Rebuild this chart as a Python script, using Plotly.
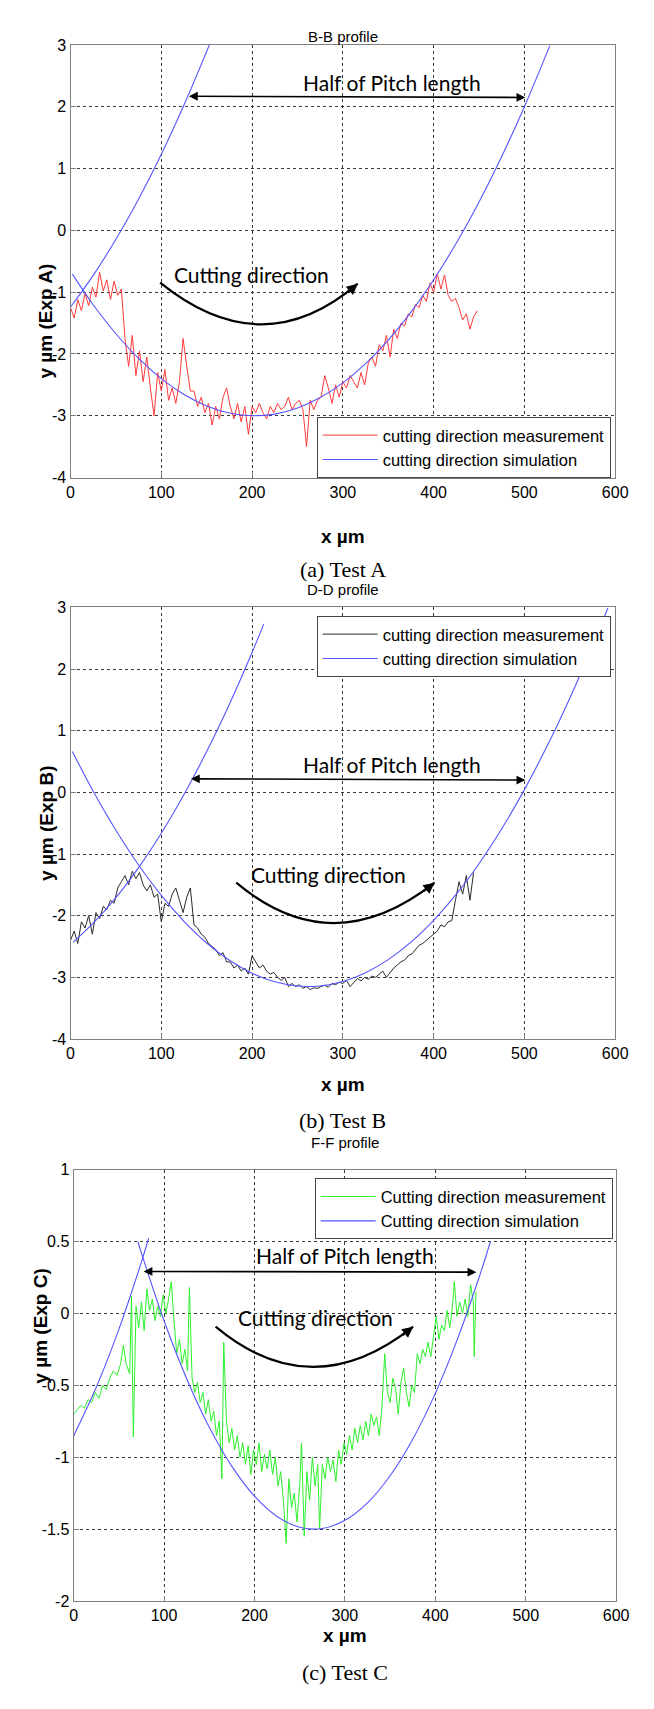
import plotly.graph_objects as go

W, H = 654, 1709

# ---------------- Panel A (B-B profile) ----------------
a_meas_x = [0,4,8,12,16,20,24,28,32,36,40,44,48,52,56,60,64,68,72,76,80,84,88,92,96,100,104,108,112,116,120,124,128,132,136,140,144,148,152,156,160,164,168,172,176,180,184,188,192,196,200,204,208,212,216,220,224,228,232,236,240,244,248,252,256,260,264,268,272,276,280,284,288,292,296,300,304,308,312,316,320,324,328,332,336,340,344,348,352,356,360,364,368,372,376,380,384,388,392,396,400,404,408,412,416,420,424,428,432,436,440,444,448]
a_meas_y = [-1.25,-1.42,-1.12,-1.30,-1.02,-1.22,-0.92,-1.08,-0.68,-0.98,-0.80,-1.12,-0.82,-1.05,-0.95,-1.75,-2.20,-1.70,-2.35,-1.95,-2.45,-2.05,-2.55,-3.00,-2.30,-2.60,-2.25,-2.75,-2.55,-2.80,-2.45,-1.75,-2.20,-2.60,-2.60,-2.85,-2.70,-2.95,-2.80,-3.15,-2.85,-3.05,-2.70,-2.55,-2.85,-3.05,-2.80,-3.10,-2.85,-3.30,-2.85,-2.95,-2.80,-2.95,-3.05,-2.85,-2.95,-2.80,-2.90,-2.85,-2.70,-2.90,-2.80,-2.75,-2.90,-3.50,-2.75,-2.90,-2.75,-2.70,-2.35,-2.55,-2.80,-2.50,-2.70,-2.45,-2.55,-2.35,-2.45,-2.55,-2.30,-2.50,-2.15,-2.05,-2.20,-1.85,-1.95,-1.70,-2.05,-1.60,-1.75,-1.50,-1.55,-1.35,-1.40,-1.20,-1.25,-1.05,-1.15,-0.85,-1.00,-0.70,-0.95,-0.72,-1.05,-1.15,-1.10,-1.25,-1.45,-1.35,-1.60,-1.40,-1.30]
a_sim_x = [2,25,50,75,100,125,150,175,200,225,250,275,300,325,350,375,400,425,450,475,500,528]
a_sim_y = [-0.709,-1.204,-1.673,-2.071,-2.398,-2.655,-2.841,-2.956,-3.0,-2.973,-2.875,-2.706,-2.467,-2.156,-1.775,-1.323,-0.800,-0.206,0.459,1.195,2.001,2.989]
a_adj_x = [0,25,50,75,100,125,153]
a_adj_y = [-1.24,-0.728,-0.145,0.508,1.232,2.028,3.002]
a_pitch = [(128.8, 2.17), (501.0, 2.15)]
a_pitch_text = (354, 2.40)
a_cut_text = (199, -0.71)
a_arc = [(98.7, -0.846), (211.6, -2.186), (316.4, -0.862)]

# ---------------- Panel B (D-D profile) ----------------
b_meas_x = [0,4,8,12,16,20,24,28,32,36,40,44,48,52,56,60,64,68,72,76,80,84,88,92,96,100,104,108,112,116,120,124,128,132,136,140,144,148,152,156,160,164,168,172,176,180,184,188,192,196,200,204,208,212,216,220,224,228,232,236,240,244,248,252,256,260,264,268,272,276,280,284,288,292,296,300,304,308,312,316,320,324,328,332,336,340,344,348,352,356,360,364,368,372,376,380,384,388,392,396,400,404,408,412,416,420,424,428,432,436,440,444]
b_meas_y = [-2.40,-2.25,-2.45,-2.10,-2.20,-2.00,-2.30,-1.95,-2.05,-1.85,-1.90,-1.75,-1.80,-1.55,-1.45,-1.35,-1.50,-1.28,-1.40,-1.30,-1.50,-1.60,-1.50,-1.70,-1.65,-2.10,-1.80,-1.85,-1.65,-1.55,-1.75,-1.95,-1.70,-1.55,-2.15,-2.20,-2.30,-2.35,-2.45,-2.50,-2.55,-2.65,-2.60,-2.75,-2.75,-2.85,-2.80,-2.90,-2.85,-2.95,-2.65,-2.75,-2.85,-2.80,-2.90,-2.95,-2.92,-3.00,-3.05,-3.00,-3.15,-3.10,-3.15,-3.12,-3.18,-3.15,-3.20,-3.17,-3.18,-3.15,-3.13,-3.16,-3.10,-3.12,-3.08,-3.10,-3.05,-3.15,-3.08,-3.02,-3.06,-3.00,-3.03,-2.98,-3.00,-2.95,-2.90,-3.00,-2.92,-2.85,-2.80,-2.75,-2.72,-2.65,-2.62,-2.55,-2.48,-2.45,-2.40,-2.35,-2.30,-2.25,-2.15,-2.18,-2.10,-2.08,-1.75,-1.45,-1.65,-1.35,-1.75,-1.30]
b_sim_x = [2,25,50,75,100,125,150,175,200,225,250,275,300,325,350,375,400,425,450,475,500,525,550,575,592]
b_sim_y = [0.663,0.018,-0.615,-1.178,-1.670,-2.091,-2.443,-2.723,-2.933,-3.073,-3.142,-3.140,-3.069,-2.926,-2.713,-2.430,-2.076,-1.652,-1.157,-0.591,0.045,0.751,1.528,2.375,2.992]
b_adj_x = [3,25,50,75,100,125,150,175,200,213]
b_adj_y = [-2.43,-2.122,-1.706,-1.220,-0.663,-0.035,0.663,1.431,2.270,2.734]
b_pitch = [(131.0, 0.22), (501.0, 0.20)]
b_pitch_text = (354, 0.46)
b_cut_text = (284, -1.33)
b_arc = [(182.6, -1.465), (288.2, -2.775), (401.0, -1.465)]

# ---------------- Panel C (F-F profile) ----------------
c_meas_x = [0,4,8,12,16,20,24,28,32,36,40,44,48,52,55,58,62,64,66,69,72,75,78,81,84,87,90,93,96,99,102,105,108,111,114,117,120,123,126,128,131,134,137,140,143,146,149,152,155,158,161,164,166,169,172,175,178,181,184,187,190,193,196,199,202,205,208,211,214,217,220,223,226,229,232,235,238,241,244,247,250,252,255,258,261,264,267,270,272,275,278,281,284,287,290,293,296,299,302,305,308,311,314,317,320,323,326,329,332,335,338,341,344,347,350,353,356,359,362,365,368,371,374,377,380,383,386,389,392,395,398,401,404,407,410,413,416,419,421,424,427,430,433,436,439,442,443,445]
c_meas_y = [-0.70,-0.67,-0.64,-0.66,-0.60,-0.62,-0.55,-0.59,-0.50,-0.53,-0.45,-0.40,-0.43,-0.35,-0.22,-0.35,-0.42,0.12,-0.86,0.05,-0.10,0.08,-0.12,0.17,0.02,0.10,-0.05,0.05,-0.02,0.13,0.00,0.10,0.22,-0.05,-0.28,-0.18,-0.35,-0.25,-0.40,0.18,-0.45,-0.55,-0.48,-0.62,-0.55,-0.70,-0.60,-0.75,-0.68,-0.85,-0.75,-1.15,-0.20,-0.75,-0.90,-0.80,-0.95,-0.85,-1.00,-0.90,-1.05,-0.92,-1.12,-0.95,-1.05,-0.90,-1.10,-0.98,-1.08,-0.95,-1.12,-1.00,-1.20,-1.10,-1.30,-1.60,-1.15,-1.35,-1.25,-1.45,-1.20,-0.90,-1.55,-1.10,-1.30,-1.00,-1.20,-1.05,-1.50,-1.05,-1.15,-1.00,-1.10,-1.02,-1.17,-0.95,-1.05,-0.90,-0.98,-0.85,-0.95,-0.80,-0.90,-0.78,-0.88,-0.75,-0.85,-0.70,-0.78,-0.72,-0.85,-0.65,-0.28,-0.55,-0.62,-0.45,-0.52,-0.70,-0.48,-0.38,-0.55,-0.65,-0.50,-0.55,-0.28,-0.35,-0.25,-0.30,-0.20,-0.30,-0.15,-0.02,-0.18,-0.08,-0.12,0.02,-0.10,0.05,0.22,-0.02,0.08,0.00,0.10,-0.02,0.20,0.08,-0.30,0.15]
c_sim_x = [71,75,100,125,150,175,200,225,250,275,300,325,350,375,400,425,450,461]
c_sim_y = [0.50,0.419,-0.051,-0.454,-0.792,-1.064,-1.271,-1.412,-1.487,-1.496,-1.439,-1.317,-1.129,-0.875,-0.556,-0.170,0.281,0.50]
c_adj_x = [0,25,50,75,83]
c_adj_y = [-0.852,-0.514,-0.111,0.359,0.523]
c_pitch = [(75.7, 0.292), (445.4, 0.287)]
c_pitch_text = (300, 0.40)
c_cut_text = (268, -0.03)
c_arc = [(157.0, -0.092), (263.8, -0.652), (375.5, -0.092)]

x_ticks = [0, 100, 200, 300, 400, 500, 600]
x_tick_text = ["0", "100", "200", "300", "400", "500", "600"]
ab_y_ticks = [-4, -3, -2, -1, 0, 1, 2, 3]
ab_y_tick_text = ["-4", "-3", "-2", "-1", "0", "1", "2", "3"]
c_y_ticks = [-2, -1.5, -1, -0.5, 0, 0.5, 1]
c_y_tick_text = ["-2", "-1.5", "-1", "-0.5", "0", "0.5", "1"]

titles = ["B-B profile", "D-D profile", "F-F profile"]
ytitles = ["y \u00b5m (Exp A)", "y \u00b5m (Exp B)", "y \u00b5m (Exp C)"]
captions = ["(a) Test A", "(b) Test B", "(c) Test C"]
legend_names = [("cutting direction measurement", "cutting direction simulation"),
                ("cutting direction measurement", "cutting direction simulation"),
                ("Cutting direction measurement", "Cutting direction simulation")]

# ---------------- layout geometry (pixels of the 654x1709 page) ----------------
def py(v):
    return 1 - v / H

def px(v):
    return v / W

panels = [
    dict(x0=68.3, x1=627.5, y0=37.3, y1=474.3, title_y=18.5, xt_y=521, cap_y=553, leg=(321, 413), yt_x=30),
    dict(x0=68.3, x1=627.5, y0=605.5, y1=1041.3, title_y=587, xt_y=1087, cap_y=1124, leg=(321, 614), yt_x=30),
    dict(x0=71.5, x1=628.5, y0=1173.3, y1=1609.0, title_y=1157, xt_y=1656, cap_y=1696, leg=(319, 1182), yt_x=25),
]

RED = "#ff3a3a"
BLUE = "#5555ff"
BLACK = "#2a2a2a"
GREEN = "#2ef02e"

fig = go.Figure()

meas = [(a_meas_x, a_meas_y, RED), (b_meas_x, b_meas_y, BLACK), (c_meas_x, c_meas_y, GREEN)]
sims = [(a_sim_x, a_sim_y, a_adj_x, a_adj_y), (b_sim_x, b_sim_y, b_adj_x, b_adj_y), (c_sim_x, c_sim_y, c_adj_x, c_adj_y)]
legids = ["legend", "legend2", "legend3"]

for i in range(3):
    xa = "x" if i == 0 else f"x{i+1}"
    ya = "y" if i == 0 else f"y{i+1}"
    mx, my, mc = meas[i]
    sx, sy, adx, ady = sims[i]
    fig.add_trace(go.Scatter(x=mx, y=my, mode="lines", line=dict(color=mc, width=1),
                             name=legend_names[i][0], xaxis=xa, yaxis=ya, legend=legids[i]))
    fig.add_trace(go.Scatter(x=sx, y=sy, mode="lines", line=dict(color=BLUE, width=1.1, shape="spline"),
                             name=legend_names[i][1], xaxis=xa, yaxis=ya, legend=legids[i]))
    fig.add_trace(go.Scatter(x=adx, y=ady, mode="lines", line=dict(color=BLUE, width=1.1, shape="spline"),
                             name=legend_names[i][1], showlegend=False, xaxis=xa, yaxis=ya, legend=legids[i]))

axis_common = dict(showline=True, mirror=True, linecolor="#808080", linewidth=1.3,
                   showgrid=True, gridcolor="#3a3a3a", griddash="dot", gridwidth=1,
                   zeroline=False, ticks="inside", ticklen=5, tickcolor="#808080",
                   tickfont=dict(family="Liberation Sans, Arial", size=16, color="black"))

layout = dict(width=W, height=H, margin=dict(l=0, r=0, t=0, b=0),
              paper_bgcolor="white", plot_bgcolor="white", showlegend=True)

for i, p in enumerate(panels):
    sfx = "" if i == 0 else str(i + 1)
    yt = (ab_y_ticks, ab_y_tick_text, [-4, 3]) if i < 2 else (c_y_ticks, c_y_tick_text, [-2, 1])
    layout["xaxis" + sfx] = dict(axis_common, domain=[px(p["x0"]), px(p["x1"])], range=[0, 600],
                                 tickvals=x_ticks, ticktext=x_tick_text, anchor="y" + sfx)
    layout["yaxis" + sfx] = dict(axis_common, domain=[py(p["y1"]), py(p["y0"])], range=yt[2],
                                 tickvals=yt[0], ticktext=yt[1], anchor="x" + sfx)
    lx, ly = p["leg"]
    layout["legend" + sfx] = dict(x=px(lx), y=py(ly), xanchor="left", yanchor="top",
                                  bgcolor="white", bordercolor="#444", borderwidth=1,
                                  font=dict(family="Liberation Sans, Arial", size=16.5, color="black"),
                                  itemwidth=55, tracegroupgap=0)

fig.update_layout(**layout)

ann_font = dict(family="Lato, Open Sans, sans-serif", size=21, color="black")
annotations = []
shapes = []
pitch = [a_pitch, b_pitch, c_pitch]
pitch_text = [a_pitch_text, b_pitch_text, c_pitch_text]
cut_text = [a_cut_text, b_cut_text, c_cut_text]
arcs = [a_arc, b_arc, c_arc]

for i, p in enumerate(panels):
    xa = "x" if i == 0 else f"x{i+1}"
    ya = "y" if i == 0 else f"y{i+1}"
    cx = px((p["x0"] + p["x1"]) / 2)
    cy = py((p["y0"] + p["y1"]) / 2)
    annotations.append(dict(text=titles[i], x=cx, y=py(p["title_y"]), xref="paper", yref="paper",
                            showarrow=False, font=dict(family="Liberation Sans, Arial", size=15, color="black")))
    annotations.append(dict(text="<b>x \u00b5m</b>", x=cx, y=py(p["xt_y"]), xref="paper", yref="paper",
                            showarrow=False, font=dict(family="Liberation Sans, Arial", size=19, color="black")))
    annotations.append(dict(text="<b>" + ytitles[i] + "</b>", x=px(p["yt_x"]), y=cy, xref="paper", yref="paper",
                            showarrow=False, textangle=-90,
                            font=dict(family="Liberation Sans, Arial", size=19, color="black")))
    annotations.append(dict(text=captions[i], x=cx, y=py(p["cap_y"]), xref="paper", yref="paper",
                            showarrow=False, font=dict(family="Liberation Serif, Times New Roman", size=22, color="black")))
    # Half of pitch length
    (x0, y0), (x1, y1) = pitch[i]
    annotations.append(dict(text="", x=x1, y=y1, ax=x0, ay=y0, xref=xa, yref=ya, axref=xa, ayref=ya,
                            showarrow=True, arrowhead=2, startarrowhead=2, arrowside="end+start",
                            arrowsize=1.1, startarrowsize=1.1, arrowwidth=1.6, arrowcolor="black",
                            standoff=0, startstandoff=0))
    tx, ty = pitch_text[i]
    annotations.append(dict(text="Half of Pitch length", x=tx, y=ty, xref=xa, yref=ya, showarrow=False, font=ann_font))
    tx, ty = cut_text[i]
    annotations.append(dict(text="Cutting direction", x=tx, y=ty, xref=xa, yref=ya, showarrow=False, font=ann_font))
    # curved arrow
    (p0x, p0y), (qx, qy), (p2x, p2y) = arcs[i]
    shapes.append(dict(type="path", xref=xa, yref=ya,
                       path=f"M {p0x},{p0y} Q {qx},{qy} {p2x},{p2y}",
                       line=dict(color="black", width=2.2)))
    k = 0.12
    annotations.append(dict(text="", x=p2x, y=p2y, ax=p2x - k * (p2x - qx), ay=p2y - k * (p2y - qy),
                            xref=xa, yref=ya, axref=xa, ayref=ya, showarrow=True,
                            arrowhead=2, arrowsize=1.0, arrowwidth=2.2, arrowcolor="black", standoff=0))

fig.update_layout(annotations=annotations, shapes=shapes)
fig.write_html("out.html")
